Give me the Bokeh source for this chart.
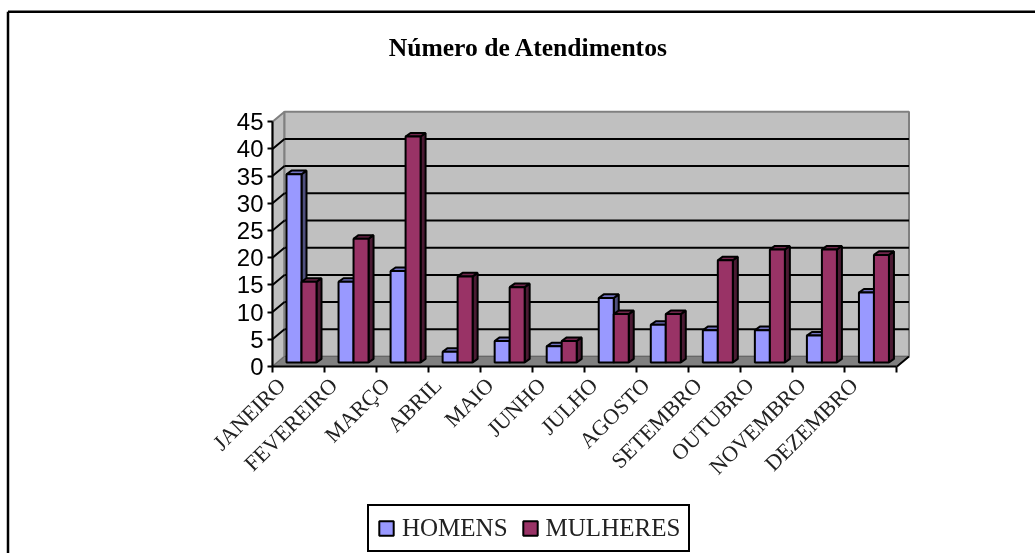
from math import pi
from bokeh.plotting import figure
from bokeh.embed import file_html
from bokeh.resources import INLINE
from bokeh.models import FixedTicker, Range1d, LinearAxis, Legend, LegendItem, Label

months = ["JANEIRO", "FEVEREIRO", "MARÇO", "ABRIL", "MAIO", "JUNHO", "JULHO",
          "AGOSTO", "SETEMBRO", "OUTUBRO", "NOVEMBRO", "DEZEMBRO"]
homens = [35, 15, 17, 2, 4, 3, 12, 7, 6, 6, 5, 13]
mulheres = [15, 23, 42, 16, 14, 4, 9, 9, 19, 21, 21, 20]
y_ticks = [0, 5, 10, 15, 20, 25, 30, 35, 40, 45]
title_text = "Número de Atendimentos"

W, H = 1035, 553
SERIF = "Liberation Serif"
X0, Y0 = 272, 366              # page pixel of the axes' origin
PX_X, PX_Y = 52.04, 5.44       # pixels per unit of the axes
WALL_DX, WALL_DY = 12 / PX_X, 10 / PX_Y
BAR_Y0, BAR_PX_Y = 362, 5.38
BAR_W = 15 / PX_X
BAR_START = 14 / PX_X
BAR_DX, BAR_DY = 5 / PX_X, 3.6 / BAR_PX_Y
LABEL_SHIFT = 9 / PX_X


def dx(px):
    return (px - X0) / PX_X


def dy(py):
    return (Y0 - py) / PX_Y


p = figure(width=W, height=H, output_backend="svg", toolbar_location=None,
           x_range=Range1d(dx(0), dx(W)), y_range=Range1d(dy(H), dy(0)),
           min_border=0, x_axis_location=None, y_axis_location=None,
           outline_line_color=None, background_fill_color=None, border_fill_color=None)
p.styles = {"position": "fixed", "left": "0", "top": "0"}
p.grid.visible = False
p.extra_y_ranges = {"bars": Range1d((BAR_Y0 - H) / BAR_PX_Y, BAR_Y0 / BAR_PX_Y)}

# outer frame: top and left rules only
p.segment(x0=[dx(7.5), dx(7.5)], y0=[dy(11.2), dy(11.2)], x1=[dx(W), dx(7.5)], y1=[dy(11.2), dy(H)],
          line_color="black", line_width=2.5)

n = len(months)
top = y_ticks[-1]
GRAY = "#808080"
WALL = "#C0C0C0"
# side wall, back wall, floor
p.patch([0, WALL_DX, WALL_DX, 0], [0, WALL_DY, top + WALL_DY, top],
        fill_color=WALL, line_color=GRAY, line_width=2)
p.patch([WALL_DX, n + WALL_DX, n + WALL_DX, WALL_DX],
        [WALL_DY, WALL_DY, top + WALL_DY, top + WALL_DY],
        fill_color=WALL, line_color=GRAY, line_width=2)
p.patch([0, n, n + WALL_DX, WALL_DX], [0, 0, WALL_DY, WALL_DY],
        fill_color=GRAY, line_color="#666666", line_width=1)
# gridlines on the back wall and their returns on the side wall
inner = y_ticks[1:-1]
p.segment(x0=[WALL_DX] * len(inner), x1=[n + WALL_DX] * len(inner),
          y0=[v + WALL_DY for v in inner], y1=[v + WALL_DY for v in inner],
          line_color="black", line_width=2)
p.segment(x0=[0] * len(inner), x1=[WALL_DX] * len(inner),
          y0=inner, y1=[v + WALL_DY for v in inner],
          line_color="black", line_width=2)
p.segment(x0=[n], x1=[n + WALL_DX], y0=[0], y1=[WALL_DY], line_color="black", line_width=2)


def bars(values, offset, front, side, roof):
    lefts = [i + BAR_START + offset for i in range(len(values))]
    rights = [x + BAR_W for x in lefts]
    xs_side = [[r, r + BAR_DX, r + BAR_DX, r] for r in rights]
    ys_side = [[0, BAR_DY, v + BAR_DY, v] for v in values]
    xs_top = [[l, l + BAR_DX, r + BAR_DX, r] for l, r in zip(lefts, rights)]
    ys_top = [[v, v + BAR_DY, v + BAR_DY, v] for v in values]
    p.patches(xs_side, ys_side, fill_color=side, line_color="black", line_width=2, y_range_name="bars")
    p.patches(xs_top, ys_top, fill_color=roof, line_color="black", line_width=2, y_range_name="bars")
    return p.quad(left=lefts, right=rights, bottom=[0] * len(values), top=values,
                  fill_color=front, line_color="black", line_width=2, y_range_name="bars")


r_h = bars(homens, 0, "#9999FF", "#50507F", "#7272C0")
r_m = bars(mulheres, BAR_W, "#993366", "#4B1A33", "#72264C")

# axes
yax = LinearAxis(ticker=FixedTicker(ticks=y_ticks), bounds=(0, top), fixed_location=0)
yax.axis_line_color = "black"
yax.axis_line_width = 2
yax.major_tick_line_width = 2
yax.major_tick_out = 5
yax.major_tick_in = 0
yax.minor_tick_line_color = None
yax.major_label_text_font = "Liberation Sans"
yax.major_label_text_font_size = "24px"
yax.major_label_text_color = "black"
yax.major_label_standoff = 4
p.add_layout(yax, "left")

# axis with the line and tick marks
ticks = list(range(n + 1))
xax = LinearAxis(ticker=FixedTicker(ticks=ticks), bounds=(0, n), fixed_location=0,
                 major_label_overrides={t: "" for t in ticks})
xax.axis_line_color = "black"
xax.axis_line_width = 2
xax.major_tick_line_width = 2
xax.major_tick_out = 6
xax.major_tick_in = 0
xax.minor_tick_line_color = None
p.add_layout(xax, "below")

# axis with the slanted month names
pos = [i + LABEL_SHIFT for i in range(n)]
lab = LinearAxis(ticker=FixedTicker(ticks=pos), fixed_location=0,
                 major_label_overrides={x: m for x, m in zip(pos, months)})
lab.axis_line_color = None
lab.major_tick_line_color = None
lab.minor_tick_line_color = None
lab.major_tick_out = 0
lab.major_tick_in = 0
lab.major_label_text_font = SERIF
lab.major_label_text_font_size = "22px"
lab.major_label_text_color = "#222222"
lab.major_label_orientation = pi / 4
lab.major_label_standoff = 15
p.add_layout(lab, "below")

# title
p.add_layout(Label(x=dx(528), y=dy(47), text=title_text, text_font=SERIF, text_font_size="25.6px",
                   text_font_style="bold", text_color="black", text_align="center",
                   text_baseline="middle"))

# legend
leg = Legend(items=[LegendItem(label="HOMENS", renderers=[r_h]),
                    LegendItem(label="MULHERES", renderers=[r_m])],
             orientation="horizontal", location=(367, 1), margin=0,
             padding=8, spacing=13, label_standoff=7,
             glyph_width=18, glyph_height=18,
             label_text_font=SERIF, label_text_font_size="25px", label_text_color="#222222",
             border_line_color="black", border_line_width=2, border_line_alpha=1,
             background_fill_color="white", background_fill_alpha=1)
p.add_layout(leg, "center")

open("out.html", "w").write(file_html(p, INLINE))
